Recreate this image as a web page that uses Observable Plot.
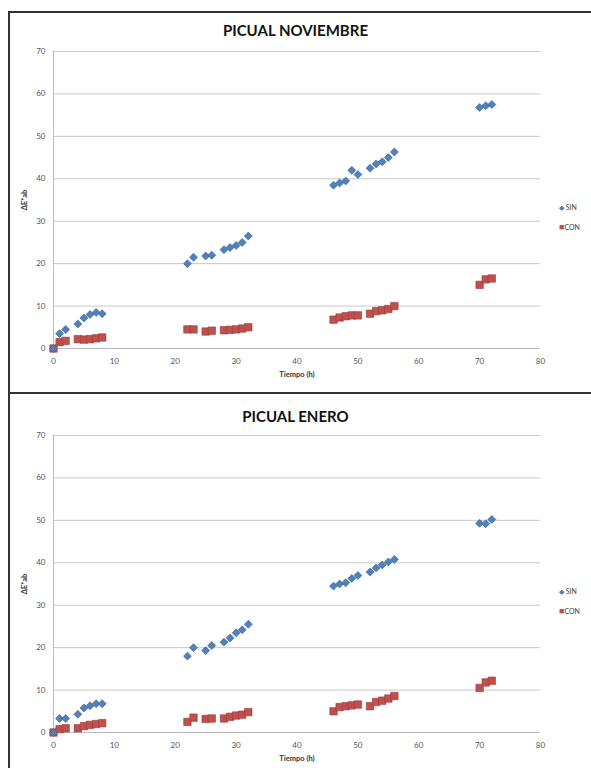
<!DOCTYPE html>
<html><head><meta charset="utf-8">
<script src="https://cdn.jsdelivr.net/npm/d3@7"></script>
<script src="https://cdn.jsdelivr.net/npm/@observablehq/plot@0.6"></script>
<style>
body{margin:0;background:#fff;font-family:Lato,"Open Sans",sans-serif;}
#page{position:relative;width:591px;height:768px;overflow:hidden;background:#fff;}
.frame{position:absolute;left:8px;width:600px;border-left:2px solid #333;border-top:2px solid #333;box-sizing:border-box;}
.title{position:absolute;left:0;width:591px;text-align:center;font-weight:bold;font-size:15px;color:#111;font-family:Lato,sans-serif;}
.legend{position:absolute;left:559px;font-size:7px;color:#444;line-height:20px;}
.legend .s{color:#4F81BD;font-size:7px;}
.legend .c{color:#C0504D;font-size:9px;}
.chart{position:absolute;left:0;}
</style>
</head><body>
<div id="page"></div>
<script>
const times = [0,1,2,4,5,6,7,8,22,23,25,26,28,29,30,31,32,46,47,48,49,50,52,53,54,55,56,70,71,72];
const novSin = [0,3.5,4.5,5.8,7.2,8,8.5,8.2, 20,21.5,21.8,22,23.3,23.8,24.3,25,26.5, 38.5,39,39.5,42,41,42.5,43.5,44,45,46.3, 56.8,57.2,57.5];
const novCon = [0,1.5,1.8,2.2,2.1,2.2,2.4,2.6, 4.5,4.5,4,4.2,4.3,4.4,4.5,4.7,5, 6.8,7.3,7.6,7.8,7.8,8.2,8.8,9,9.3,10, 15,16.3,16.5];
const eneSin = [0,3.3,3.3,4.3,5.8,6.3,6.8,6.8, 18,20,19.3,20.5,21.3,22.3,23.5,24.2,25.5, 34.5,35,35.3,36.3,37,37.8,38.8,39.5,40.2,40.8, 49.3,49.2,50.2];
const eneCon = [0,0.8,1,1,1.5,1.8,2,2.2, 2.5,3.5,3.2,3.3,3.3,3.7,4,4.2,4.8, 5,6,6.2,6.4,6.6,6.2,7.2,7.5,8,8.6, 10.5,11.8,12.2];
const xTicks = [0,10,20,30,40,50,60,70,80];
const yTicks = [0,10,20,30,40,50,60,70];
const titles = ["PICUAL NOVIEMBRE","PICUAL ENERO"];
const seriesNames = ["SIN","CON"];

const page = document.getElementById("page");

function panel(top, height, mTop, mBottom, title, titleTop, sin, con) {
  const f = document.createElement("div");
  f.className = "frame"; f.style.top = top + "px"; f.style.height = (height + 2) + "px";
  page.appendChild(f);
  const sinData = times.map((t,i)=>({t, v: sin[i]}));
  const conData = times.map((t,i)=>({t, v: con[i]}));
  const p = Plot.plot({
    width: 591, height,
    marginLeft: 53, marginRight: 51, marginTop: mTop, marginBottom: mBottom,
    style: {fontFamily: "Lato, sans-serif", fontSize: "8px", color: "#555", background: "transparent"},
    x: {domain: [0,80], ticks: xTicks, label: "Tiempo (h)", labelArrow: "none", labelAnchor: "center", labelOffset: 28, tickSize: 0, tickPadding: 10},
    y: {domain: [0,70], ticks: yTicks, label: "ΔE*ab", labelArrow: "none", labelAnchor: "center", labelOffset: 32, tickSize: 0, tickPadding: 8},
    marks: [
      Plot.gridY(yTicks.filter(d=>d>0), {stroke: "#c8c8c8", strokeOpacity: 1, strokeWidth: 1}),
      Plot.ruleY([0], {stroke: "#bbb"}),
      Plot.ruleX([0], {stroke: "#bbb"}),
      Plot.dot(conData, {x: "t", y: "v", symbol: "square", r: 4.2, fill: "#C0504D", stroke: "#9a3a37", strokeWidth: 0.6}),
      Plot.dot(sinData, {x: "t", y: "v", symbol: "diamond2", r: 3.6, fill: "#4F81BD", stroke: "#35608f", strokeWidth: 0.6})
    ]
  });
  p.classList.add("chart");
  p.style.top = top + "px";
  p.querySelectorAll("[aria-label='x-axis label'] text, [aria-label='y-axis label'] text").forEach(t=>{
    t.setAttribute("font-weight","bold"); t.setAttribute("fill","#333"); t.setAttribute("font-size","7.5");
  });
  page.appendChild(p);
  const ti = document.createElement("div");
  ti.className = "title"; ti.style.top = titleTop + "px"; ti.textContent = title;
  page.appendChild(ti);
  const lg = document.createElement("div");
  lg.className = "legend"; lg.style.top = (top + (mTop + (height-mTop-mBottom)*0.5) - 3) + "px";
  lg.innerHTML = `<div><span class="s">◆</span> ${seriesNames[0]}</div><div><span class="c">■</span>${seriesNames[1]}</div>`;
  page.appendChild(lg);
}

panel(11, 381, 40, 44, titles[0], 21, novSin, novCon);
panel(392, 376, 43, 36, titles[1], 407, eneSin, eneCon);
</script>
</body></html>
